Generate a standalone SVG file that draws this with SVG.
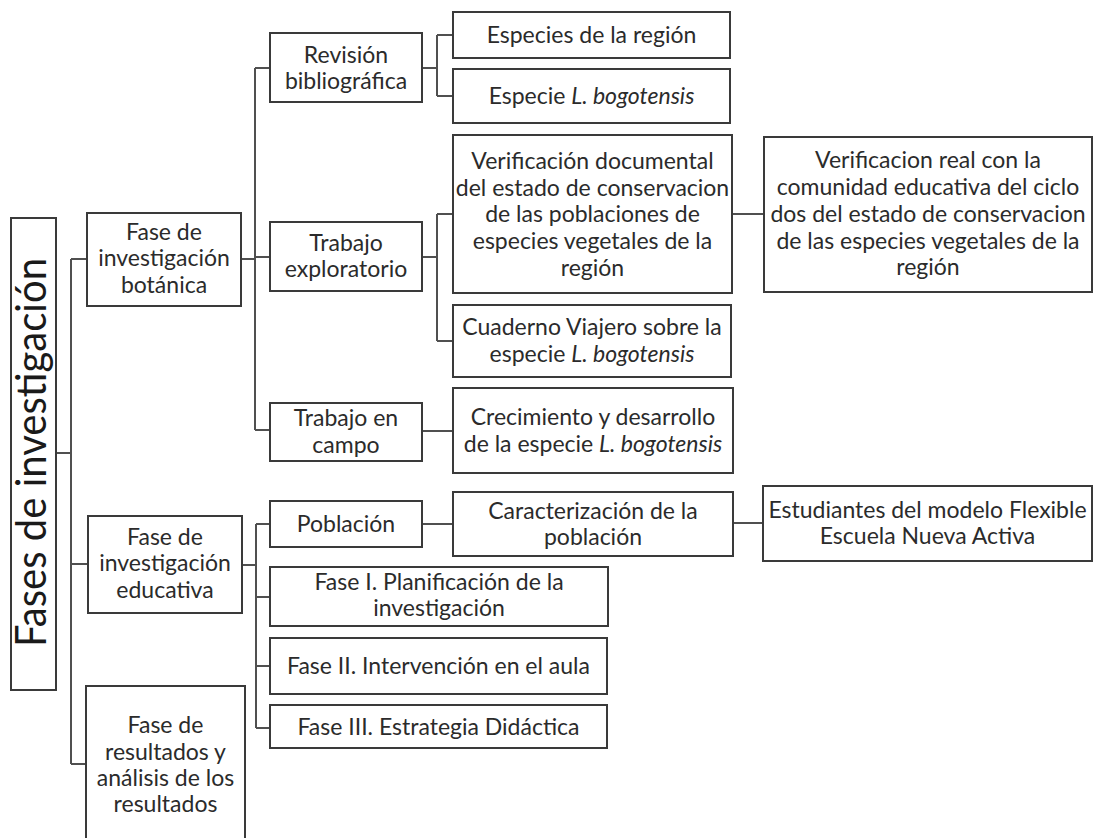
<svg xmlns="http://www.w3.org/2000/svg" width="1093" height="838" viewBox="0 0 1093 838">
<style>
.box{fill:#ffffff;stroke:#3a3a3a;stroke-width:2}
.t{font-family:Lato,"Liberation Sans",sans-serif;font-size:23px;fill:#2b2b2b;text-anchor:middle}
.big{font-family:Lato,"Liberation Sans",sans-serif;font-size:42px;font-weight:400;fill:#1a1a1a;text-anchor:middle}
.i{font-style:italic}
.c{fill:none;stroke:#505050;stroke-width:2}
</style>
<rect width="1093" height="838" fill="#ffffff"/>
<g id="connectors">
<path class="c" d="M56 453H71M71 259V764M71 259H87M71 564H88M71 764H86"/>
<path class="c" d="M241 259H255M255 68V430M255 68H270M255 257H270M255 430H270"/>
<path class="c" d="M422 68H437M437 35V96M437 35H453M437 96H453"/>
<path class="c" d="M422 257H437M437 214V341M437 214H453M437 341H453"/>
<path class="c" d="M422 431H453M732 214H764"/>
<path class="c" d="M242 565H256M256 524V728M256 524H270M256 597H270M256 666H270M256 728H270"/>
<path class="c" d="M422 524H453M733 523H763"/>
</g>
<g id="n-fases">
<rect class="box" x="11" y="218" width="45" height="472"/>
<text class="big" transform="translate(46 452.5) rotate(-90)" textLength="389" lengthAdjust="spacingAndGlyphs">Fases de investigación</text>
</g>
<g id="n-botanica">
<rect class="box" x="87" y="213" width="154" height="93"/>
<text class="t" x="164" y="240">Fase de</text>
<text class="t" x="164" y="266">investigación</text>
<text class="t" x="164" y="293">botánica</text>
</g>
<g id="n-educativa">
<rect class="box" x="88" y="516" width="154" height="97"/>
<text class="t" x="165" y="545">Fase de</text>
<text class="t" x="165" y="571">investigación</text>
<text class="t" x="165" y="598">educativa</text>
</g>
<g id="n-resultados">
<rect class="box" x="86" y="686" width="159" height="170"/>
<text class="t" x="165.5" y="733">Fase de</text>
<text class="t" x="165.5" y="760">resultados y</text>
<text class="t" x="165.5" y="786">análisis de los</text>
<text class="t" x="165.5" y="812">resultados</text>
</g>
<g id="n-revision">
<rect class="box" x="270" y="33" width="152" height="69"/>
<text class="t" x="346" y="63">Revisión</text>
<text class="t" x="346" y="89">bibliográfica</text>
</g>
<g id="n-exploratorio">
<rect class="box" x="270" y="222" width="152" height="69"/>
<text class="t" x="346" y="251">Trabajo</text>
<text class="t" x="346" y="277">exploratorio</text>
</g>
<g id="n-campo">
<rect class="box" x="270" y="403" width="152" height="58"/>
<text class="t" x="346" y="426">Trabajo en</text>
<text class="t" x="346" y="453">campo</text>
</g>
<g id="n-especies">
<rect class="box" x="453" y="12" width="277" height="46"/>
<text class="t" x="591.5" y="43">Especies de la región</text>
</g>
<g id="n-especie">
<rect class="box" x="453" y="69" width="277" height="54"/>
<text class="t" x="591.5" y="104">Especie <tspan class="i">L. bogotensis</tspan></text>
</g>
<g id="n-verif-doc">
<rect class="box" x="453" y="135" width="279" height="158"/>
<text class="t" x="592.5" y="169">Verificación documental</text>
<text class="t" x="592.5" y="196">del estado de conservacion</text>
<text class="t" x="592.5" y="222">de las poblaciones de</text>
<text class="t" x="592.5" y="249">especies vegetales de la</text>
<text class="t" x="592.5" y="276">región</text>
</g>
<g id="n-verif-real">
<rect class="box" x="764" y="137" width="328" height="155"/>
<text class="t" x="928" y="168">Verificacion real con la</text>
<text class="t" x="928" y="195">comunidad educativa del ciclo</text>
<text class="t" x="928" y="222">dos del estado de conservacion</text>
<text class="t" x="928" y="249">de las especies vegetales de la</text>
<text class="t" x="928" y="275">región</text>
</g>
<g id="n-cuaderno">
<rect class="box" x="453" y="305" width="278" height="72"/>
<text class="t" x="592" y="335">Cuaderno Viajero sobre la</text>
<text class="t" x="592" y="362">especie <tspan class="i">L. bogotensis</tspan></text>
</g>
<g id="n-crecimiento">
<rect class="box" x="453" y="388" width="280" height="85"/>
<text class="t" x="593" y="425">Crecimiento y desarrollo</text>
<text class="t" x="593" y="452">de la especie <tspan class="i">L. bogotensis</tspan></text>
</g>
<g id="n-poblacion">
<rect class="box" x="270" y="501" width="152" height="46"/>
<text class="t" x="346" y="532">Población</text>
</g>
<g id="n-caracterizacion">
<rect class="box" x="453" y="492" width="280" height="64"/>
<text class="t" x="593" y="519">Caracterización de la</text>
<text class="t" x="593" y="545">población</text>
</g>
<g id="n-estudiantes">
<rect class="box" x="763" y="486" width="329" height="75"/>
<text class="t" x="927.5" y="518">Estudiantes del modelo Flexible</text>
<text class="t" x="927.5" y="544">Escuela Nueva Activa</text>
</g>
<g id="n-fase1">
<rect class="box" x="270" y="567" width="338" height="59"/>
<text class="t" x="439" y="590">Fase I. Planificación de la</text>
<text class="t" x="439" y="616">investigación</text>
</g>
<g id="n-fase2">
<rect class="box" x="270" y="638" width="337" height="56"/>
<text class="t" x="438.5" y="674">Fase II. Intervención en el aula</text>
</g>
<g id="n-fase3">
<rect class="box" x="270" y="705" width="337" height="43"/>
<text class="t" x="438.5" y="735">Fase III. Estrategia Didáctica</text>
</g>
</svg>
